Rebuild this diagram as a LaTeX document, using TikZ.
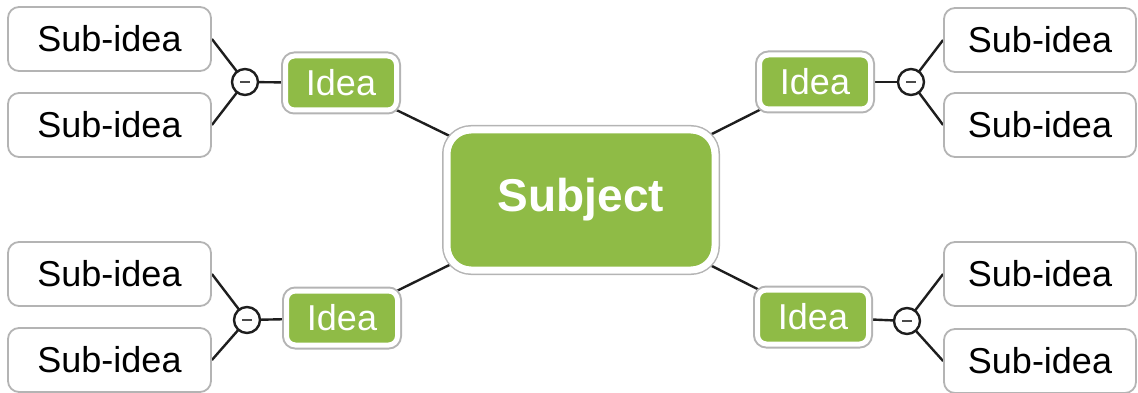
\documentclass[tikz,border=0pt]{standalone}
\usepackage{fontspec}
\setmainfont{Liberation Sans}
\usetikzlibrary{backgrounds}
\definecolor{idgreen}{RGB}{143,187,70}
\definecolor{boxgray}{RGB}{180,180,180}
\definecolor{linec}{RGB}{30,30,30}
\tikzset{
  subbox/.style={draw=boxgray, line width=1.8pt, fill=white, rounded corners=11pt,
    minimum width=203pt, minimum height=64pt, inner sep=0pt,
    font=\fontsize{36}{40}\selectfont, text=black},
  ideabox/.style={preaction={draw=boxgray, line width=9pt, rounded corners=9pt},
    fill=idgreen, draw=white, line width=5pt, rounded corners=9pt,
    minimum width=111pt, minimum height=54pt, inner sep=0pt,
    font=\fontsize{36}{40}\selectfont, text=white},
  subjbox/.style={preaction={draw=boxgray, line width=10pt, rounded corners=24pt},
    fill=idgreen, draw=white, line width=7pt, rounded corners=24pt,
    minimum width=268pt, minimum height=140pt, inner sep=0pt,
    font=\fontsize{46}{50}\selectfont\bfseries, text=white},
  knob/.style={circle, draw=linec, line width=2.4pt, fill=white,
    minimum size=26pt, inner sep=0pt},
  conn/.style={draw=linec, line width=2.4pt},
  dashmark/.style={draw=linec!80, line width=2pt}
}
\begin{document}
\begin{tikzpicture}[x=1pt,y=-1pt]
\useasboundingbox (0,0) rectangle (1138,393);
% subject
\node[subjbox] (subject) at (581,200) {Subject};
% ideas
\node[ideabox] (ideaTL) at (341,83) {Idea};
\node[ideabox] (ideaBL) at (342,318) {Idea};
\node[ideabox] (ideaTR) at (815,82) {Idea};
\node[ideabox] (ideaBR) at (813,317) {Idea};
% knobs
\node[knob] (kTL) at (245,82) {};
\node[knob] (kBL) at (247,320) {};
\node[knob] (kTR) at (911,82) {};
\node[knob] (kBR) at (907,321) {};
\foreach \k in {kTL,kBL,kTR,kBR}{
  \draw[dashmark] ([xshift=-5pt]\k.center) -- ([xshift=5pt]\k.center);
}
% sub-ideas
\node[subbox] (sTL1) at (109.5,39) {Sub-idea};
\node[subbox] (sTL2) at (109.5,125) {Sub-idea};
\node[subbox] (sBL1) at (109.5,274) {Sub-idea};
\node[subbox] (sBL2) at (109.5,360) {Sub-idea};
\node[subbox, minimum width=192pt] (sTR1) at (1040,40) {Sub-idea};
\node[subbox, minimum width=192pt] (sTR2) at (1040,125) {Sub-idea};
\node[subbox, minimum width=192pt] (sBR1) at (1040,274) {Sub-idea};
\node[subbox, minimum width=192pt] (sBR2) at (1040,361) {Sub-idea};
\begin{pgfonlayer}{background}
  \draw[conn] (ideaTL.center) -- (subject.center);
  \draw[conn] (ideaBL.center) -- (subject.center);
  \draw[conn] (ideaTR.center) -- (subject.center);
  \draw[conn] (ideaBR.center) -- (subject.center);
  \draw[conn] (ideaTL.center) -- (kTL.center);
  \draw[conn] (ideaBL.center) -- (kBL.center);
  \draw[conn] (ideaTR.center) -- (kTR.center);
  \draw[conn] (ideaBR.center) -- (kBR.center);
  \draw[conn] (kTL.center) -- (sTL1.east);
  \draw[conn] (kTL.center) -- (sTL2.east);
  \draw[conn] (kBL.center) -- (sBL1.east);
  \draw[conn] (kBL.center) -- (sBL2.east);
  \draw[conn] (kTR.center) -- (sTR1.west);
  \draw[conn] (kTR.center) -- (sTR2.west);
  \draw[conn] (kBR.center) -- (sBR1.west);
  \draw[conn] (kBR.center) -- (sBR2.west);
\end{pgfonlayer}
\end{tikzpicture}
\end{document}
